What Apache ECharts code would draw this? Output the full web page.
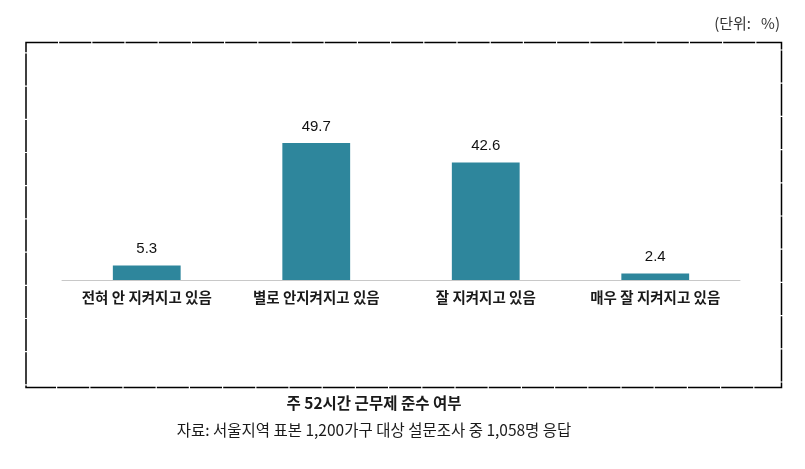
<!DOCTYPE html>
<html><head><meta charset="utf-8">
<script src="https://cdn.jsdelivr.net/npm/echarts@6/dist/echarts.min.js"></script>
<style>html,body{margin:0;padding:0;background:#fff}#c{width:805px;height:469px}</style>
</head><body><div id="c"></div>
<script>
const categories = ['전혀 안 지켜지고 있음', '별로 안지켜지고 있음', '잘 지켜지고 있음', '매우 잘 지켜지고 있음'];
const values = [5.3, 49.7, 42.6, 2.4];
const unitText = '(단위:   %)';
const titleText = '주 52시간 근무제 준수 여부';
const sourceText = '자료: 서울지역 표본 1,200가구 대상 설문조사 중 1,058명 응답';
const FONT = '"Noto Sans CJK KR", "Noto Sans", sans-serif';
const chart = echarts.init(document.getElementById('c'));
chart.setOption({
  animation: false,
  textStyle: { fontFamily: FONT },
  grid: { left: 62, right: 65, top: 114.6, bottom: 189 },
  xAxis: {
    type: 'category', data: categories,
    axisLine: { lineStyle: { color: '#c8c8c8', width: 1 } },
    axisTick: { show: false },
    axisLabel: { color: '#1a1a1a', fontSize: 14.5, fontWeight: 'bold', margin: 10, fontFamily: FONT }
  },
  yAxis: {
    type: 'value', min: 0, max: 60, show: false, splitLine: { show: false }
  },
  series: [{
    type: 'bar', data: values, barWidth: '40%',
    itemStyle: { color: '#2e869c' },
    label: { show: true, position: 'top', distance: 9, color: '#111', fontSize: 15, fontFamily: '"Liberation Sans", Arial, sans-serif' }
  }],
  graphic: [
    { type: 'rect', shape: { x: 26, y: 42.5, width: 755.5, height: 345 },
      style: { fill: 'none', stroke: '#000', lineWidth: 1.5, lineDash: [32, 1.2] } },
    { type: 'text', right: 25, top: 16, style: { text: unitText, fill: '#333', font: '15px ' + FONT } },
    { type: 'text', x: 374, y: 395, style: { text: titleText, fill: '#1a1a1a', font: 'bold 15.5px ' + FONT, textAlign: 'center' } },
    { type: 'text', x: 374, y: 422, style: { text: sourceText, fill: '#1a1a1a', font: '15.5px ' + FONT, textAlign: 'center' } }
  ]
});
</script></body></html>
